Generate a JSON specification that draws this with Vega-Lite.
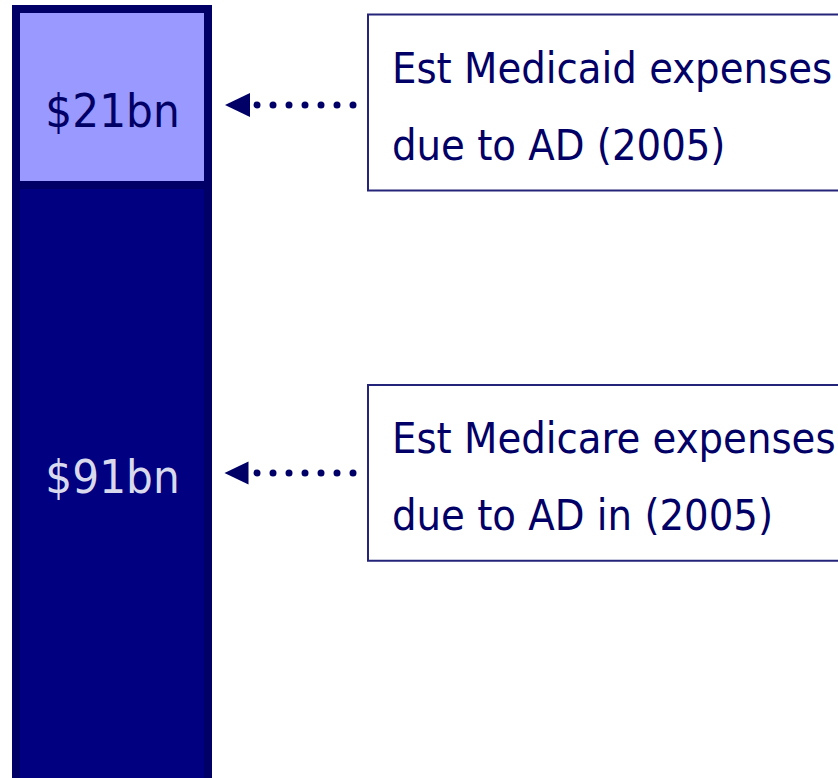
{
  "$schema": "https://vega.github.io/schema/vega-lite/v6.json",
  "width": 838,
  "height": 778,
  "padding": 0,
  "autosize": {"type": "none"},
  "background": "white",
  "config": {
    "view": {"stroke": null},
    "text": {"font": "DejaVu Sans Condensed, Liberation Sans Narrow, sans-serif"}
  },
  "data": {
    "values": [
      {"segment": "Medicaid", "amount": 21, "label": "$21bn", "note": "Est Medicaid expenses\ndue to AD (2005)"},
      {"segment": "Medicare", "amount": 91, "label": "$91bn", "note": "Est Medicare expenses\ndue to AD in (2005)"}
    ]
  },
  "layer": [
    {
      "transform": [{"stack": "amount", "groupby": [], "sort": [{"field": "segment", "order": "ascending"}], "as": ["y0", "y1"]}],
      "mark": {"type": "rect", "stroke": "#000066", "strokeWidth": 8, "clip": true},
      "encoding": {
        "x": {"datum": 1.909, "type": "quantitative", "scale": {"domain": [0, 100], "nice": false, "zero": false}, "axis": null},
        "x2": {"datum": 24.821},
        "y": {"field": "y0", "type": "quantitative", "scale": {"domain": [-1.0739, 91.757], "reverse": true, "nice": false, "zero": false}, "axis": null},
        "y2": {"field": "y1"},
        "fill": {"field": "segment", "type": "nominal", "scale": {"domain": ["Medicaid", "Medicare"], "range": ["#9999FF", "#000080"]}, "legend": null}
      }
    },
    {
      "transform": [{"filter": "datum.segment === 'Medicaid'"}],
      "mark": {"type": "text", "align": "center", "baseline": "alphabetic", "fontSize": 47, "color": "#000066"},
      "encoding": {
        "x": {"datum": 13.43, "type": "quantitative"},
        "y": {"datum": 14.08, "type": "quantitative"},
        "text": {"field": "label"}
      }
    },
    {
      "transform": [{"filter": "datum.segment === 'Medicare'"}],
      "mark": {"type": "text", "align": "center", "baseline": "alphabetic", "fontSize": 47, "color": "#D8D9EC"},
      "encoding": {
        "x": {"datum": 13.43, "type": "quantitative"},
        "y": {"datum": 57.75, "type": "quantitative"},
        "text": {"field": "label"}
      }
    },
    {
      "transform": [{"filter": "datum.segment === 'Medicaid'"}],
      "mark": {"type": "rule", "color": "#000066", "strokeWidth": 7, "strokeCap": "round", "strokeDash": [0, 16]},
      "encoding": {
        "x": {"datum": 30.67, "type": "quantitative"},
        "x2": {"datum": 43.91},
        "y": {"datum": 11.454, "type": "quantitative"}
      }
    },
    {
      "transform": [{"filter": "datum.segment === 'Medicare'"}],
      "mark": {"type": "rule", "color": "#000066", "strokeWidth": 7, "strokeCap": "round", "strokeDash": [0, 16]},
      "encoding": {
        "x": {"datum": 30.67, "type": "quantitative"},
        "x2": {"datum": 43.91},
        "y": {"datum": 55.36, "type": "quantitative"}
      }
    },
    {
      "transform": [{"filter": "datum.segment === 'Medicaid'"}],
      "mark": {"type": "point", "shape": "M-1,0L1,-0.96L1,0.96Z", "filled": true, "opacity": 1, "size": 625, "color": "#000066"},
      "encoding": {
        "x": {"datum": 28.34, "type": "quantitative"},
        "y": {"datum": 11.454, "type": "quantitative"}
      }
    },
    {
      "transform": [{"filter": "datum.segment === 'Medicare'"}],
      "mark": {"type": "point", "shape": "M-1,0L1,-0.96L1,0.96Z", "filled": true, "opacity": 1, "size": 576, "color": "#000066"},
      "encoding": {
        "x": {"datum": 28.22, "type": "quantitative"},
        "y": {"datum": 55.36, "type": "quantitative"}
      }
    },
    {
      "transform": [{"filter": "datum.segment === 'Medicaid'"}],
      "mark": {"type": "rect", "fill": "white", "stroke": "#24247A", "strokeWidth": 2, "clip": true},
      "encoding": {
        "x": {"datum": 43.914, "type": "quantitative"},
        "x2": {"datum": 100.6},
        "y": {"datum": 0.656, "type": "quantitative"},
        "y2": {"datum": 21.656}
      }
    },
    {
      "transform": [{"filter": "datum.segment === 'Medicare'"}],
      "mark": {"type": "rect", "fill": "white", "stroke": "#24247A", "strokeWidth": 2, "clip": true},
      "encoding": {
        "x": {"datum": 43.914, "type": "quantitative"},
        "x2": {"datum": 100.6},
        "y": {"datum": 44.864, "type": "quantitative"},
        "y2": {"datum": 65.83}
      }
    },
    {
      "transform": [{"filter": "datum.segment === 'Medicaid'"}],
      "mark": {"type": "text", "align": "left", "baseline": "alphabetic", "fontSize": 43, "lineHeight": 77, "lineBreak": "\n", "color": "#000066"},
      "encoding": {
        "x": {"datum": 46.78, "type": "quantitative"},
        "y": {"datum": 8.83, "type": "quantitative"},
        "text": {"field": "note"}
      }
    },
    {
      "transform": [{"filter": "datum.segment === 'Medicare'"}],
      "mark": {"type": "text", "align": "left", "baseline": "alphabetic", "fontSize": 43, "lineHeight": 77, "lineBreak": "\n", "color": "#000066"},
      "encoding": {
        "x": {"datum": 46.78, "type": "quantitative"},
        "y": {"datum": 53.01, "type": "quantitative"},
        "text": {"field": "note"}
      }
    }
  ]
}
